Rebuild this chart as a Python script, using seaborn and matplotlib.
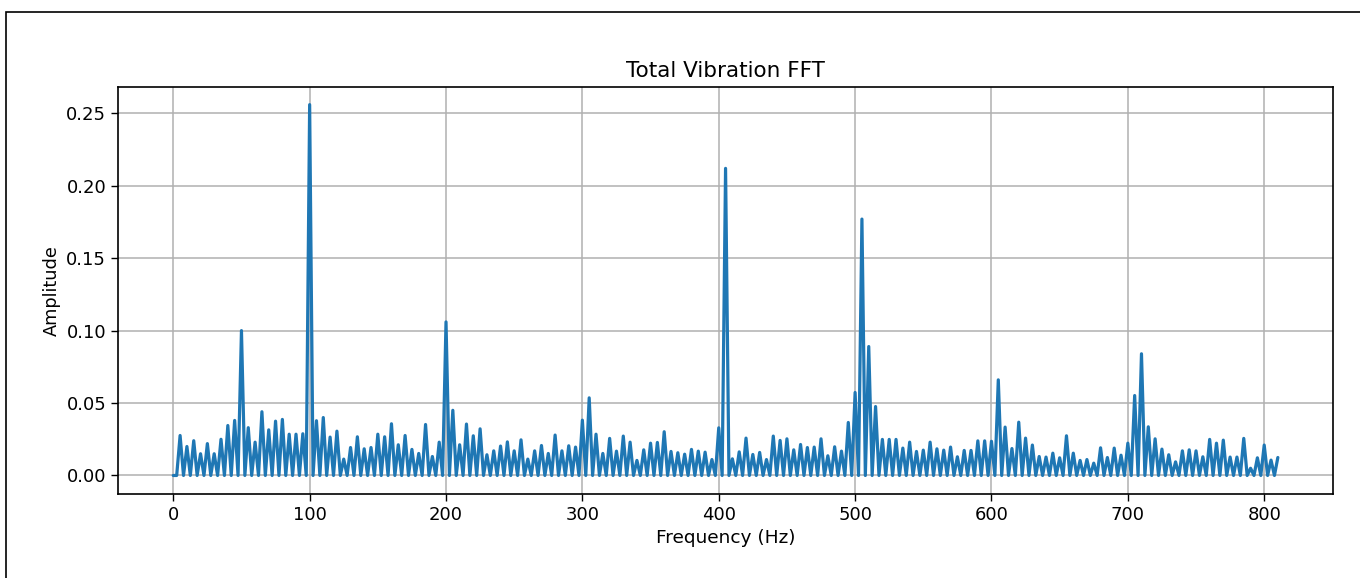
import numpy as np
import pandas as pd
import seaborn as sns
import matplotlib.pyplot as plt
from matplotlib.patches import Rectangle

# peak frequencies (Hz), one every 5 Hz from 5 to 810
peak_freqs = list(range(5, 815, 5))

# peak amplitudes, in the same order
peaks_0_200 = [
    0.0276, 0.020, 0.024, 0.015, 0.022, 0.015, 0.025, 0.0345, 0.038, 0.100,
    0.033, 0.023, 0.044, 0.0315, 0.0375, 0.0387, 0.0285, 0.0285, 0.0288, 0.256,
    0.0378, 0.040, 0.0265, 0.0306, 0.0113, 0.0193, 0.0267, 0.0184, 0.0193, 0.0285,
    0.0267, 0.0357, 0.0212, 0.0276, 0.018, 0.0152, 0.0352, 0.0131, 0.023, 0.106,
]
peaks_205_400 = [
    0.045, 0.0212, 0.0355, 0.0274, 0.0322, 0.0143, 0.017, 0.0203, 0.0232, 0.017,
    0.0246, 0.0113, 0.017, 0.0207, 0.0152, 0.0279, 0.017, 0.0205, 0.0196, 0.0382,
    0.0536, 0.0285, 0.0152, 0.0256, 0.0168, 0.0272, 0.023, 0.0104, 0.0177, 0.0223,
    0.0228, 0.0302, 0.0166, 0.0157, 0.0147, 0.018, 0.0168, 0.0161, 0.011, 0.0329,
]
peaks_405_600 = [
    0.212, 0.0115, 0.0163, 0.0258, 0.0145, 0.0159, 0.011, 0.0272, 0.0242, 0.0253,
    0.0177, 0.0214, 0.0193, 0.0196, 0.0253, 0.0136, 0.0198, 0.0168, 0.0366, 0.0573,
    0.177, 0.089, 0.0476, 0.0249, 0.0249, 0.0249, 0.0189, 0.023, 0.0166, 0.0175,
    0.023, 0.0184, 0.0175, 0.0196, 0.0129, 0.0173, 0.0173, 0.0239, 0.0239, 0.0236,
]
peaks_605_810 = [
    0.066, 0.0334, 0.0186, 0.0368, 0.0258, 0.021, 0.0131, 0.0127, 0.0154, 0.0122,
    0.0274, 0.0154, 0.0104, 0.011, 0.0085, 0.0191, 0.0124, 0.0189, 0.014, 0.0223,
    0.0552, 0.084, 0.0336, 0.0253, 0.0182, 0.0143, 0.0094, 0.017, 0.0177, 0.017,
    0.0129, 0.0249, 0.0223, 0.0244, 0.0127, 0.0127, 0.0256, 0.005, 0.0122, 0.021,
    0.0106, 0.0124,
]
peak_amps = peaks_0_200 + peaks_205_400 + peaks_405_600 + peaks_605_810

# spectrum drops to zero half way between neighbouring peaks
trough_amp = 0.0

freq, amp = [0.0], [0.0]
for f, a in zip(peak_freqs, peak_amps):
    freq += [f - 2.5, f]
    amp += [trough_amp, a]
spectrum = pd.DataFrame({'Frequency (Hz)': freq, 'Amplitude': amp})

sns.set_style('ticks')
plt.rcParams['font.family'] = ['DejaVu Sans']
plt.rcParams['text.color'] = 'black'
plt.rcParams['axes.labelcolor'] = 'black'
plt.rcParams['xtick.color'] = 'black'
plt.rcParams['ytick.color'] = 'black'

fig = plt.figure(figsize=(13.6, 5.78), dpi=100)
ax = fig.add_axes([0.0868, 0.1453, 0.8934, 0.7042])

sns.lineplot(data=spectrum, x='Frequency (Hz)', y='Amplitude', ax=ax,
             estimator=None, sort=False, color='#1f77b4', linewidth=2.3)

ax.set_title('Total Vibration FFT', fontsize=15.5, pad=7)
ax.set_xlabel('Frequency (Hz)', fontsize=13.3)
ax.set_ylabel('Amplitude', fontsize=12.8)
ax.set_xlim(-40.5, 850.5)
ax.set_ylim(-0.0128, 0.2682)
ax.set_xticks(range(0, 801, 100))
ax.set_yticks([0.0, 0.05, 0.10, 0.15, 0.20, 0.25])
ax.tick_params(labelsize=13, length=5, width=1)
ax.grid(True, color='#b0b0b0', linewidth=1.1)
for s in ax.spines.values():
    s.set_visible(True)
    s.set_color('black')
    s.set_linewidth(1.2)

# thin frame around the whole picture
fig.patches.append(Rectangle((6 / 1360, -0.01), 1.0, 1 - 12 / 578 + 0.01,
                             transform=fig.transFigure, fill=False,
                             edgecolor='black', linewidth=1.2))

plt.savefig('out.png', dpi=100)
